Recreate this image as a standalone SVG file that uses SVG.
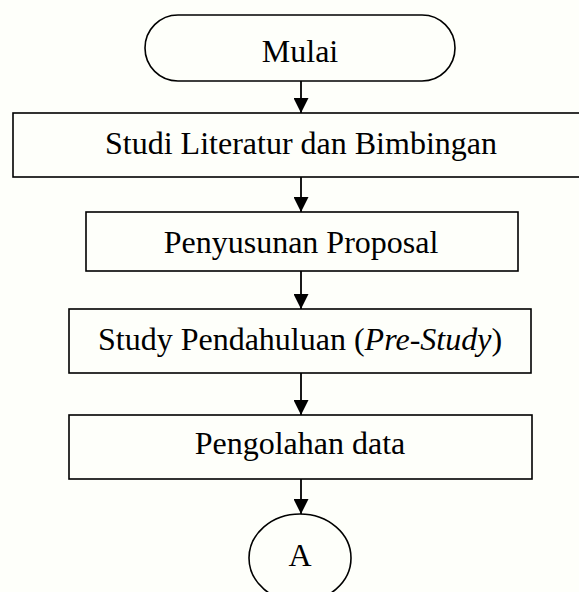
<svg xmlns="http://www.w3.org/2000/svg" width="579" height="592" viewBox="0 0 579 592">
<style>
.box{fill:none;stroke:#000;stroke-width:1.6}
.lbl{font-family:"Liberation Serif","Times New Roman",serif;font-size:32px;fill:#000;text-anchor:middle}
.con{stroke:#000;stroke-width:1.8;fill:none}
</style>
<defs>
<marker id="ah" markerUnits="userSpaceOnUse" markerWidth="15" markerHeight="15" refX="15" refY="7.5" orient="auto">
<path d="M0,0 L15,7.5 L0,15 z" fill="#000"/>
</marker>
</defs>
<rect width="579" height="592" fill="#fefffa"/>
<g id="connectors">
<line class="con" x1="301" y1="81" x2="301" y2="113" marker-end="url(#ah)"/>
<line class="con" x1="301" y1="177" x2="301" y2="212" marker-end="url(#ah)"/>
<line class="con" x1="301" y1="271" x2="301" y2="309" marker-end="url(#ah)"/>
<line class="con" x1="301" y1="373" x2="301" y2="415" marker-end="url(#ah)"/>
<line class="con" x1="301" y1="479" x2="301" y2="514" marker-end="url(#ah)"/>
</g>
<g id="start">
<rect class="box" x="145" y="15" width="310" height="66" rx="33" ry="33"/>
<text class="lbl" x="300" y="62">Mulai</text>
</g>
<g id="studi">
<rect class="box" x="13" y="113" width="580" height="64"/>
<text class="lbl" x="301" y="154">Studi Literatur dan Bimbingan</text>
</g>
<g id="proposal">
<rect class="box" x="86" y="212" width="432" height="59"/>
<text class="lbl" x="301" y="253">Penyusunan Proposal</text>
</g>
<g id="prestudy">
<rect class="box" x="69" y="309" width="462" height="64"/>
<text class="lbl" x="300" y="350">Study Pendahuluan (<tspan font-style="italic">Pre-Study</tspan>)</text>
</g>
<g id="pengolahan">
<rect class="box" x="69" y="415" width="463" height="64"/>
<text class="lbl" x="300" y="454">Pengolahan data</text>
</g>
<g id="connectorA">
<ellipse class="box" cx="300" cy="558" rx="51" ry="44"/>
<text class="lbl" x="300" y="566">A</text>
</g>
</svg>
